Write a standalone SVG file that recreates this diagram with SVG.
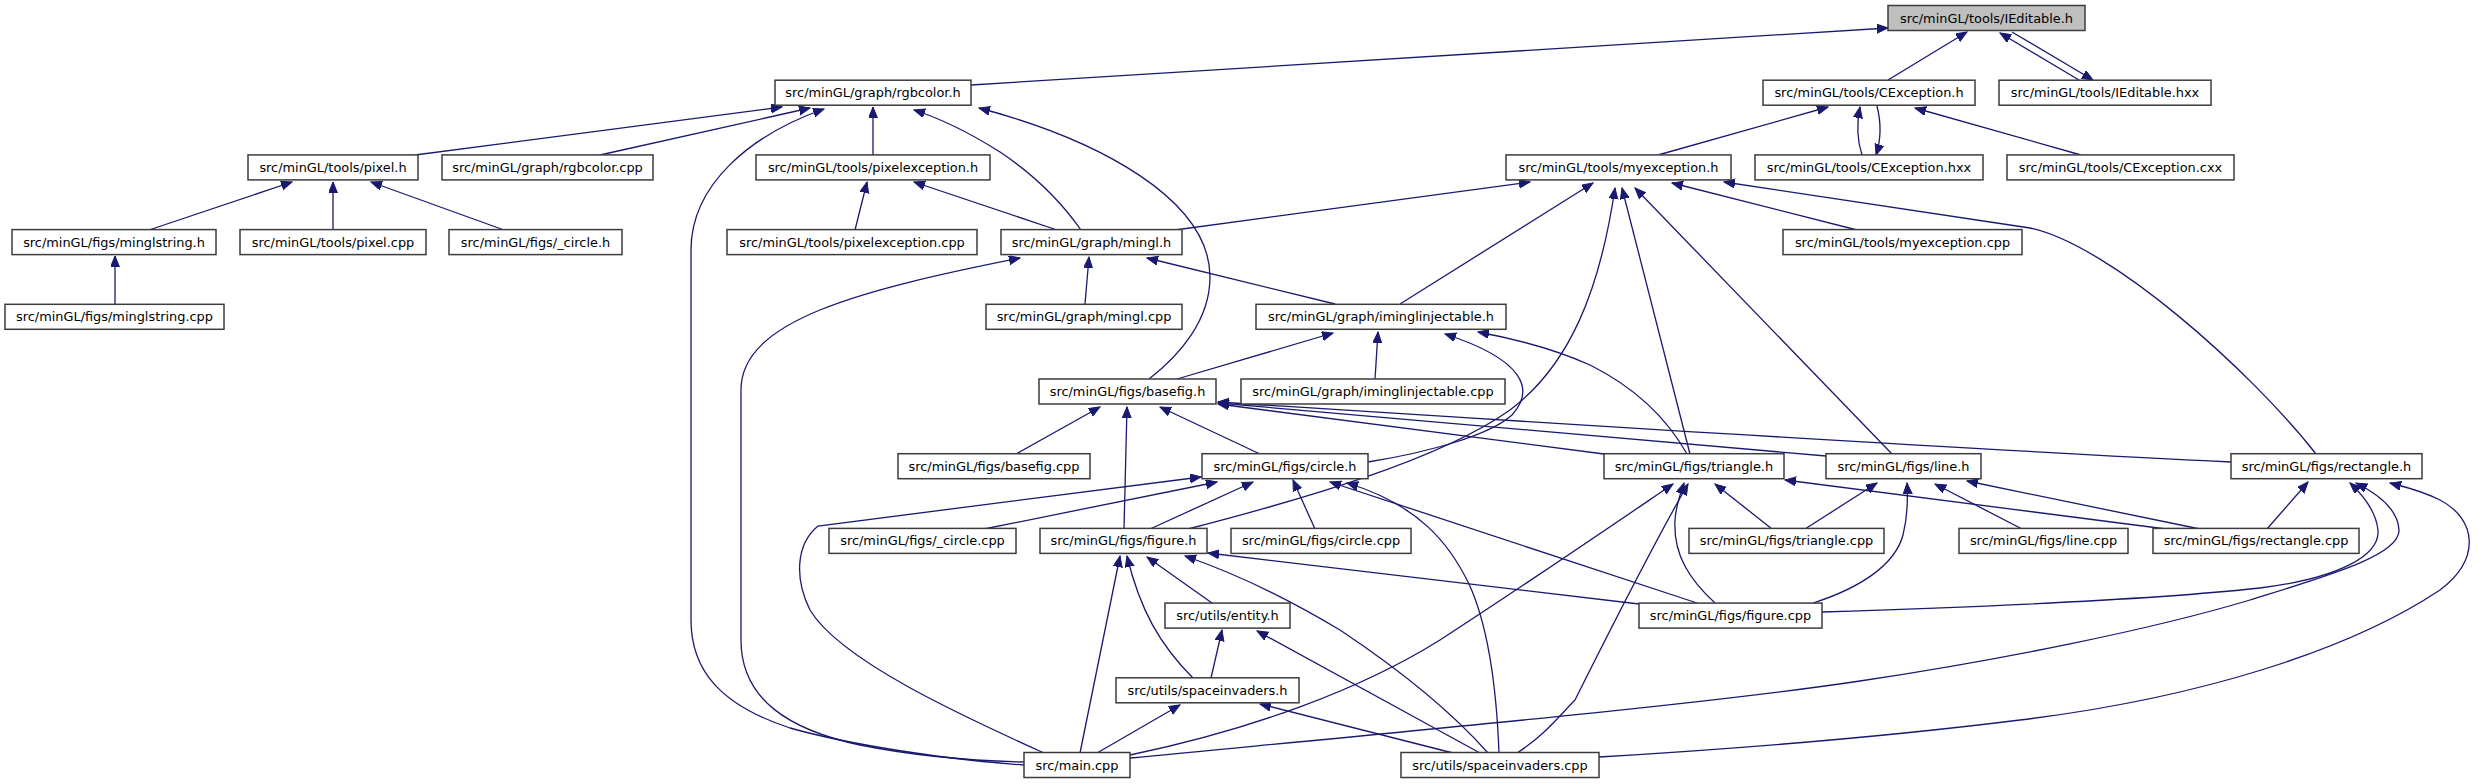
<svg xmlns="http://www.w3.org/2000/svg" width="2479" height="784" viewBox="0 0 2479 784">
<style>
.n rect{fill:#ffffff;stroke:#3c3c3c;stroke-width:1.5}
.root rect{fill:#bfbfbf}
.n text{font-family:"DejaVu Sans","Liberation Sans",sans-serif;font-size:12.9px;fill:#000;text-anchor:middle}
.e path{fill:none;stroke:#191970;stroke-width:1.3;marker-end:url(#ah)}
</style>
<defs>
<marker id="ah" markerUnits="userSpaceOnUse" markerWidth="12" markerHeight="10" refX="11" refY="4.5" orient="auto" viewBox="0 0 12 10">
<path d="M0,0 L11,4.5 L0,9 z" fill="#191970" stroke="#191970" stroke-width="1"/>
</marker>
</defs>
<rect width="2479" height="784" fill="#ffffff"/>
<g class="e" id="connectors">
<path d="M971,85 L1888,28"/>
<path d="M1888,80 L1967,32"/>
<path d="M2079,80 L2000,33"/>
<path d="M2012,32 L2093,80"/>
<path d="M415,155 L782,107"/>
<path d="M600,155 L810,108"/>
<path d="M1024,765 C950,760 850,745 790,728 C720,705 691,670 691,620 L691,250 C691,185 750,135 824,109"/>
<path d="M873,155 L873,107"/>
<path d="M1081,230 C1060,200 1030,172 1000,152 C970,133 945,120 914,110"/>
<path d="M1149,379 C1180,355 1210,320 1210,277 C1210,200 1100,140 979,108"/>
<path d="M149,230 L292,182"/>
<path d="M333,230 L333,182"/>
<path d="M504,230 L371,182"/>
<path d="M115,304 L115,256"/>
<path d="M855,230 L867,182"/>
<path d="M1057,230 L914,182"/>
<path d="M1658,155 L1828,107"/>
<path d="M1862,155 C1857,140 1857,122 1860,107"/>
<path d="M1877,106 C1881,122 1881,140 1876,155"/>
<path d="M2081,155 L1915,108"/>
<path d="M1175,230 L1530,182"/>
<path d="M1400,304 L1593,183"/>
<path d="M1188,529 C1300,500 1440,460 1510,410 C1570,365 1600,290 1615,188"/>
<path d="M1690,454 L1622,188"/>
<path d="M1892,454 L1635,188"/>
<path d="M1857,230 L1672,183"/>
<path d="M2316,454 C2250,370 2110,245 2030,228 L1724,182"/>
<path d="M1368,462 C1430,452 1490,435 1512,415 C1535,390 1525,360 1445,334"/>
<path d="M1687,454 C1665,415 1630,385 1590,365 C1550,347 1510,338 1478,332"/>
<path d="M1177,379 L1333,333"/>
<path d="M1375,379 L1378,332"/>
<path d="M1335,304 L1147,258"/>
<path d="M1085,304 L1089,257"/>
<path d="M1024,762 C980,761 920,757 860,745 C790,730 741,700 741,640 L741,390 C741,320 860,290 1020,258"/>
<path d="M1016,454 L1100,407"/>
<path d="M1124,529 L1127,407"/>
<path d="M1260,454 L1160,407"/>
<path d="M1604,454 L1218,404"/>
<path d="M1826,456 L1218,403"/>
<path d="M2231,462 C1900,446 1500,420 1218,402"/>
<path d="M984,529 L1217,482"/>
<path d="M1044,753 C960,715 840,660 810,610 C795,580 795,545 818,526 L1201,477"/>
<path d="M1150,529 L1253,482"/>
<path d="M1315,529 L1293,480"/>
<path d="M1697,603 L1330,482"/>
<path d="M1499,753 C1497,700 1490,630 1469,584 C1450,545 1420,505 1347,483"/>
<path d="M1080,753 L1120,556"/>
<path d="M1193,678 C1160,645 1140,610 1127,556"/>
<path d="M1212,603 L1147,557"/>
<path d="M1488,753 C1450,710 1400,670 1340,630 C1290,600 1240,575 1185,556"/>
<path d="M1639,604 L1208,553"/>
<path d="M1211,678 L1222,630"/>
<path d="M1480,753 L1257,631"/>
<path d="M1097,753 L1180,705"/>
<path d="M1453,753 L1260,704"/>
<path d="M1130,755 C1250,730 1360,690 1440,640 C1540,575 1620,520 1673,484"/>
<path d="M1715,603 C1690,580 1673,555 1675,520 C1676,505 1680,495 1684,483"/>
<path d="M1517,753 C1545,735 1560,715 1575,700 C1600,650 1650,550 1688,484"/>
<path d="M1772,529 L1715,484"/>
<path d="M2166,529 L1785,480"/>
<path d="M1805,529 L1877,483"/>
<path d="M1813,603 C1860,588 1895,565 1903,535 C1908,515 1908,500 1907,483"/>
<path d="M2022,529 L1935,484"/>
<path d="M2200,529 L1967,481"/>
<path d="M2267,529 L2308,482"/>
<path d="M1822,612 C1950,608 2150,600 2260,588 C2340,578 2380,555 2378,530 C2376,512 2365,497 2350,483"/>
<path d="M1130,758 C1400,732 1700,705 1860,681 C2000,660 2150,630 2250,600 C2330,575 2400,555 2399,530 C2398,510 2380,495 2356,483"/>
<path d="M1599,757 C1750,748 1900,735 2020,720 C2200,698 2350,650 2440,590 C2480,560 2478,520 2440,500 C2420,490 2405,487 2390,483"/>
</g>
<g class="n root" id="n_IEditable_h"><rect x="1888" y="5.5" width="197" height="25"/><text x="1986.5" y="22.5">src/minGL/tools/IEditable.h</text></g>
<g class="n" id="n_rgbcolor_h"><rect x="775" y="80.2" width="196" height="25"/><text x="873" y="97.2">src/minGL/graph/rgbcolor.h</text></g>
<g class="n" id="n_CException_h"><rect x="1763" y="80.2" width="212" height="25"/><text x="1869" y="97.2">src/minGL/tools/CException.h</text></g>
<g class="n" id="n_IEditable_hxx"><rect x="1999" y="80.2" width="212" height="25"/><text x="2105" y="97.2">src/minGL/tools/IEditable.hxx</text></g>
<g class="n" id="n_pixel_h"><rect x="248" y="154.9" width="170" height="25"/><text x="333" y="171.9">src/minGL/tools/pixel.h</text></g>
<g class="n" id="n_rgbcolor_cpp"><rect x="442" y="154.9" width="211" height="25"/><text x="547.5" y="171.9">src/minGL/graph/rgbcolor.cpp</text></g>
<g class="n" id="n_pixelexception_h"><rect x="756" y="154.9" width="234" height="25"/><text x="873" y="171.9">src/minGL/tools/pixelexception.h</text></g>
<g class="n" id="n_myexception_h"><rect x="1506" y="154.9" width="225" height="25"/><text x="1618.5" y="171.9">src/minGL/tools/myexception.h</text></g>
<g class="n" id="n_CException_hxx"><rect x="1755" y="154.9" width="228" height="25"/><text x="1869" y="171.9">src/minGL/tools/CException.hxx</text></g>
<g class="n" id="n_CException_cxx"><rect x="2007" y="154.9" width="227" height="25"/><text x="2120.5" y="171.9">src/minGL/tools/CException.cxx</text></g>
<g class="n" id="n_minglstring_h"><rect x="12" y="229.6" width="204" height="25"/><text x="114" y="246.6">src/minGL/figs/minglstring.h</text></g>
<g class="n" id="n_pixel_cpp"><rect x="240" y="229.6" width="186" height="25"/><text x="333" y="246.6">src/minGL/tools/pixel.cpp</text></g>
<g class="n" id="n__circle_h"><rect x="449" y="229.6" width="173" height="25"/><text x="535.5" y="246.6">src/minGL/figs/_circle.h</text></g>
<g class="n" id="n_pixelexception_cpp"><rect x="727" y="229.6" width="250" height="25"/><text x="852" y="246.6">src/minGL/tools/pixelexception.cpp</text></g>
<g class="n" id="n_mingl_h"><rect x="1001" y="229.6" width="181" height="25"/><text x="1091.5" y="246.6">src/minGL/graph/mingl.h</text></g>
<g class="n" id="n_myexception_cpp"><rect x="1783" y="229.6" width="239" height="25"/><text x="1902.5" y="246.6">src/minGL/tools/myexception.cpp</text></g>
<g class="n" id="n_minglstring_cpp"><rect x="5" y="304.3" width="219" height="25"/><text x="114.5" y="321.3">src/minGL/figs/minglstring.cpp</text></g>
<g class="n" id="n_mingl_cpp"><rect x="986" y="304.3" width="196" height="25"/><text x="1084" y="321.3">src/minGL/graph/mingl.cpp</text></g>
<g class="n" id="n_iminglinjectable_h"><rect x="1256" y="304.3" width="250" height="25"/><text x="1381" y="321.3">src/minGL/graph/iminglinjectable.h</text></g>
<g class="n" id="n_basefig_h"><rect x="1039" y="379" width="177" height="25"/><text x="1127.5" y="396">src/minGL/figs/basefig.h</text></g>
<g class="n" id="n_iminglinjectable_cpp"><rect x="1241" y="379" width="264" height="25"/><text x="1373" y="396">src/minGL/graph/iminglinjectable.cpp</text></g>
<g class="n" id="n_basefig_cpp"><rect x="898" y="453.7" width="192" height="25"/><text x="994" y="470.7">src/minGL/figs/basefig.cpp</text></g>
<g class="n" id="n_circle_h"><rect x="1202" y="453.7" width="166" height="25"/><text x="1285" y="470.7">src/minGL/figs/circle.h</text></g>
<g class="n" id="n_triangle_h"><rect x="1604" y="453.7" width="180" height="25"/><text x="1694" y="470.7">src/minGL/figs/triangle.h</text></g>
<g class="n" id="n_line_h"><rect x="1826" y="453.7" width="155" height="25"/><text x="1903.5" y="470.7">src/minGL/figs/line.h</text></g>
<g class="n" id="n_rectangle_h"><rect x="2231" y="453.7" width="191" height="25"/><text x="2326.5" y="470.7">src/minGL/figs/rectangle.h</text></g>
<g class="n" id="n__circle_cpp"><rect x="829" y="528.4" width="187" height="25"/><text x="922.5" y="545.4">src/minGL/figs/_circle.cpp</text></g>
<g class="n" id="n_figure_h"><rect x="1040" y="528.4" width="167" height="25"/><text x="1123.5" y="545.4">src/minGL/figs/figure.h</text></g>
<g class="n" id="n_circle_cpp"><rect x="1231" y="528.4" width="180" height="25"/><text x="1321" y="545.4">src/minGL/figs/circle.cpp</text></g>
<g class="n" id="n_triangle_cpp"><rect x="1689" y="528.4" width="195" height="25"/><text x="1786.5" y="545.4">src/minGL/figs/triangle.cpp</text></g>
<g class="n" id="n_line_cpp"><rect x="1959" y="528.4" width="169" height="25"/><text x="2043.5" y="545.4">src/minGL/figs/line.cpp</text></g>
<g class="n" id="n_rectangle_cpp"><rect x="2153" y="528.4" width="206" height="25"/><text x="2256" y="545.4">src/minGL/figs/rectangle.cpp</text></g>
<g class="n" id="n_entity_h"><rect x="1165" y="603.1" width="125" height="25"/><text x="1227.5" y="620.1">src/utils/entity.h</text></g>
<g class="n" id="n_figure_cpp"><rect x="1639" y="603.1" width="183" height="25"/><text x="1730.5" y="620.1">src/minGL/figs/figure.cpp</text></g>
<g class="n" id="n_spaceinvaders_h"><rect x="1116" y="677.8" width="183" height="25"/><text x="1207.5" y="694.8">src/utils/spaceinvaders.h</text></g>
<g class="n" id="n_main_cpp"><rect x="1024" y="752.5" width="106" height="25"/><text x="1077" y="769.5">src/main.cpp</text></g>
<g class="n" id="n_spaceinvaders_cpp"><rect x="1401" y="752.5" width="198" height="25"/><text x="1500" y="769.5">src/utils/spaceinvaders.cpp</text></g>
</svg>
